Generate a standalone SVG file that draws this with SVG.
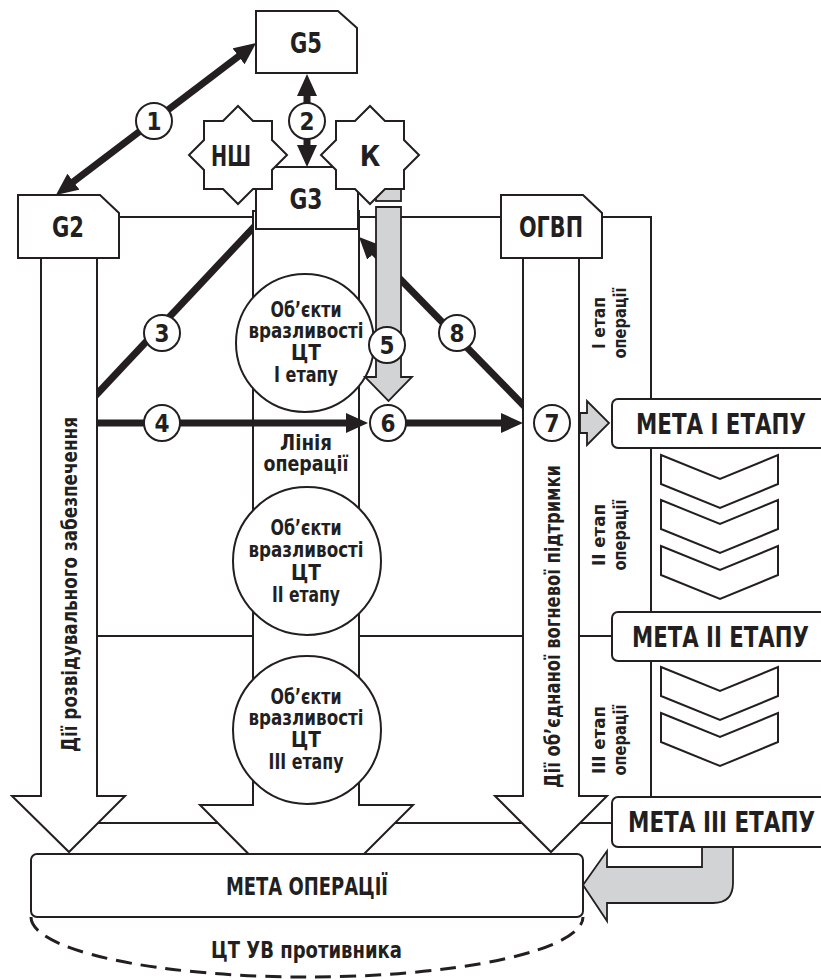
<svg xmlns="http://www.w3.org/2000/svg" xmlns:xlink="http://www.w3.org/1999/xlink" width="821" height="980" viewBox="0 0 821 980">
<style>
.o{fill:#fff;stroke:#231f20;stroke-width:2}
.ln{fill:none;stroke:#231f20;stroke-width:2}
.th{fill:none;stroke:#231f20;stroke-width:7}
.gr{fill:#d1d3d4;stroke:#231f20;stroke-width:1.8}
.t{font-family:"Liberation Sans Narrow","DejaVu Sans Condensed","Liberation Sans",sans-serif;font-weight:bold;fill:#231f20;text-anchor:middle}
.num{font-size:24px}
.big{font-size:28px}
.ct{font-size:22px}
.st{font-size:18px}
</style>
<defs>
<marker id="ah" markerUnits="userSpaceOnUse" markerWidth="22" markerHeight="20" refX="8" refY="10" orient="auto-start-reverse" viewBox="0 0 22 20">
<path d="M0,0 L22,10 L0,20 z" fill="#231f20"/>
</marker>
<polygon id="star" points="-34,-34 -15,-34 0,-49 15,-34 34,-34 34,-15 49,0 34,15 34,34 15,34 0,49 -15,34 -34,34 -34,15 -49,0 -34,-15"/>
<polygon id="chev" points="0,0 59,24 117,0 117,29 59,53 0,29"/>
</defs>

<g id="grid-lines">
<path class="ln" d="M119,217 H651 V797"/>
<path class="ln" d="M97,636 H612"/>
<path class="ln" d="M69,823 H612"/>
</g>

<g id="connectors-under">
<line class="th" x1="90" y1="401.5" x2="260" y2="220.5"/>
</g>

<g id="line-of-operation">
<polygon class="o" points="253,211 359,211 359,805 413,805 306,912 200,805 253,805"/>
</g>

<g id="connector-8">
<line class="th" x1="530" y1="412" x2="368.8" y2="247" marker-end="url(#ah)"/>
</g>

<g id="recon-arrow">
<polygon class="o" points="41,258 97,258 97,796 125,796 69,852 12,796 41,796"/>
<text class="t" font-size="22" transform="translate(77,584.5) rotate(-90)" textLength="335" lengthAdjust="spacingAndGlyphs">Дії розвідувального забезпечення</text>
</g>

<g id="fire-arrow">
<polygon class="o" points="523,258 579,258 579,796 607,796 551,852 495,796 523,796"/>
<text class="t" font-size="22" transform="translate(560,626.5) rotate(-90)" textLength="323" lengthAdjust="spacingAndGlyphs">Дії об’єднаної вогневої підтримки</text>
</g>

<g id="objects-1">
<circle class="o" cx="305" cy="343" r="69"/>
<text class="t ct" x="306" y="317" textLength="71" lengthAdjust="spacingAndGlyphs">Об’єкти</text>
<text class="t ct" x="306" y="338" textLength="115" lengthAdjust="spacingAndGlyphs">вразливості</text>
<text class="t ct" x="306" y="360" textLength="30" lengthAdjust="spacingAndGlyphs">ЦТ</text>
<text class="t ct" x="306" y="382" textLength="64" lengthAdjust="spacingAndGlyphs">І етапу</text>
</g>

<g id="line-label">
<text class="t ct" x="306" y="450" textLength="52" lengthAdjust="spacingAndGlyphs">Лінія</text>
<text class="t ct" x="306" y="471" textLength="85" lengthAdjust="spacingAndGlyphs">операції</text>
</g>

<g id="objects-2">
<circle class="o" cx="307" cy="561" r="74"/>
<text class="t ct" x="306" y="535" textLength="71" lengthAdjust="spacingAndGlyphs">Об’єкти</text>
<text class="t ct" x="306" y="557" textLength="115" lengthAdjust="spacingAndGlyphs">вразливості</text>
<text class="t ct" x="306" y="580" textLength="30" lengthAdjust="spacingAndGlyphs">ЦТ</text>
<text class="t ct" x="306" y="602" textLength="68" lengthAdjust="spacingAndGlyphs">ІІ етапу</text>
</g>

<g id="objects-3">
<circle class="o" cx="307" cy="730" r="74"/>
<text class="t ct" x="306" y="704" textLength="71" lengthAdjust="spacingAndGlyphs">Об’єкти</text>
<text class="t ct" x="306" y="725" textLength="115" lengthAdjust="spacingAndGlyphs">вразливості</text>
<text class="t ct" x="306" y="747" textLength="30" lengthAdjust="spacingAndGlyphs">ЦТ</text>
<text class="t ct" x="306" y="769" textLength="75" lengthAdjust="spacingAndGlyphs">ІІІ етапу</text>
</g>

<g id="goal-operation">
<path d="M31,917 A276,60 0 0 0 583,917" fill="none" stroke="#231f20" stroke-width="3" stroke-dasharray="16 9"/>
<rect class="o" x="31" y="854" width="552" height="63" rx="6"/>
<text class="t" font-size="25" x="307" y="895" textLength="162" lengthAdjust="spacingAndGlyphs">МЕТА ОПЕРАЦІЇ</text>
<text class="t" font-size="23" x="306.5" y="958" textLength="191" lengthAdjust="spacingAndGlyphs">ЦТ УВ противника</text>
</g>

<g id="return-arrow">
<path class="gr" d="M702,845 V867 H607 V851 L583,885 L607,921 V903 H713 Q733,903 733,883 V845 z"/>
</g>

<g id="G5">
<polygon class="o" points="256,11 338,11 357,28 357,73 256,73"/>
<text class="t big" x="306" y="53" textLength="32" lengthAdjust="spacingAndGlyphs">G5</text>
</g>

<g id="G2">
<polygon class="o" points="18,195 100,195 119,213 119,258 18,258"/>
<text class="t big" x="68" y="237" textLength="32" lengthAdjust="spacingAndGlyphs">G2</text>
</g>

<g id="OGVP">
<polygon class="o" points="501,195 583,195 602,213 602,258 501,258"/>
<text class="t big" x="551" y="237" textLength="64" lengthAdjust="spacingAndGlyphs">ОГВП</text>
</g>

<g id="G3">
<rect class="o" x="256" y="167" width="102" height="62"/>
<text class="t big" x="306" y="209" textLength="33" lengthAdjust="spacingAndGlyphs">G3</text>
</g>

<g id="grey-stub">
<rect class="gr" x="376" y="180" width="25" height="21"/>
</g>

<g id="NSh">
<use xlink:href="#star" href="#star" x="238" y="155" class="o"/>
<text class="t big" x="231" y="166" textLength="40" lengthAdjust="spacingAndGlyphs">НШ</text>
</g>

<g id="K">
<use xlink:href="#star" href="#star" x="370" y="155" class="o"/>
<text class="t big" x="370" y="166">К</text>
</g>

<g id="connectors">
<line class="th" x1="67.1" y1="186.5" x2="244.9" y2="51.5" marker-start="url(#ah)" marker-end="url(#ah)"/>
<line class="th" x1="307" y1="88" x2="307" y2="153" marker-start="url(#ah)" marker-end="url(#ah)"/>
<line class="th" x1="97" y1="423" x2="354" y2="423" marker-end="url(#ah)"/>
<line class="th" x1="388" y1="423" x2="509" y2="423" marker-end="url(#ah)"/>
<polygon class="gr" points="376,207 401,207 401,377 412,377 388.5,401 365,377 376,377"/>
<polygon class="gr" points="580,413 587,413 587,401 609,423 587,445 587,433 580,433"/>
</g>

<g id="numbers">
<circle class="o" cx="154" cy="121" r="18" stroke-width="1.5"/><text class="t num" x="154" y="130">1</text>
<circle class="o" cx="307" cy="121" r="18" stroke-width="1.5"/><text class="t num" x="307" y="130">2</text>
<circle class="o" cx="162" cy="333" r="18" stroke-width="1.5"/><text class="t num" x="162" y="342">3</text>
<circle class="o" cx="162" cy="423" r="18" stroke-width="1.5"/><text class="t num" x="162" y="432">4</text>
<circle class="o" cx="387" cy="345" r="18" stroke-width="1.5"/><text class="t num" x="387" y="354">5</text>
<circle class="o" cx="388" cy="423" r="18" stroke-width="1.5"/><text class="t num" x="388" y="432">6</text>
<circle class="o" cx="552" cy="423" r="18" stroke-width="1.5"/><text class="t num" x="552" y="432">7</text>
<circle class="o" cx="457" cy="333" r="18" stroke-width="1.5"/><text class="t num" x="457" y="342">8</text>
</g>

<g id="stage-labels">
<text class="t st" transform="translate(605,323) rotate(-90)" textLength="52" lengthAdjust="spacingAndGlyphs">І етап</text>
<text class="t st" transform="translate(626,323) rotate(-90)" textLength="71" lengthAdjust="spacingAndGlyphs">операції</text>
<text class="t st" transform="translate(605,535) rotate(-90)" textLength="62" lengthAdjust="spacingAndGlyphs">ІІ етап</text>
<text class="t st" transform="translate(626,535) rotate(-90)" textLength="71" lengthAdjust="spacingAndGlyphs">операції</text>
<text class="t st" transform="translate(605,740) rotate(-90)" textLength="68" lengthAdjust="spacingAndGlyphs">ІІІ етап</text>
<text class="t st" transform="translate(626,740) rotate(-90)" textLength="71" lengthAdjust="spacingAndGlyphs">операції</text>
</g>

<g id="chevrons">
<use xlink:href="#chev" href="#chev" x="661" y="455" class="o"/>
<use xlink:href="#chev" href="#chev" x="661" y="500" class="o"/>
<use xlink:href="#chev" href="#chev" x="661" y="546" class="o"/>
<use xlink:href="#chev" href="#chev" x="661" y="667" class="o"/>
<use xlink:href="#chev" href="#chev" x="661" y="713" class="o"/>
</g>

<g id="goal-1">
<rect class="o" x="612" y="399" width="220" height="49" rx="6"/>
<text class="t big" x="721" y="434" textLength="170" lengthAdjust="spacingAndGlyphs">МЕТА І ЕТАПУ</text>
</g>
<g id="goal-2">
<rect class="o" x="612" y="612" width="220" height="49" rx="6"/>
<text class="t big" x="720.5" y="647" textLength="177" lengthAdjust="spacingAndGlyphs">МЕТА ІІ ЕТАПУ</text>
</g>
<g id="goal-3">
<rect class="o" x="612" y="797" width="220" height="50" rx="6"/>
<text class="t big" x="721.5" y="832" textLength="187" lengthAdjust="spacingAndGlyphs">МЕТА ІІІ ЕТАПУ</text>
</g>
</svg>
